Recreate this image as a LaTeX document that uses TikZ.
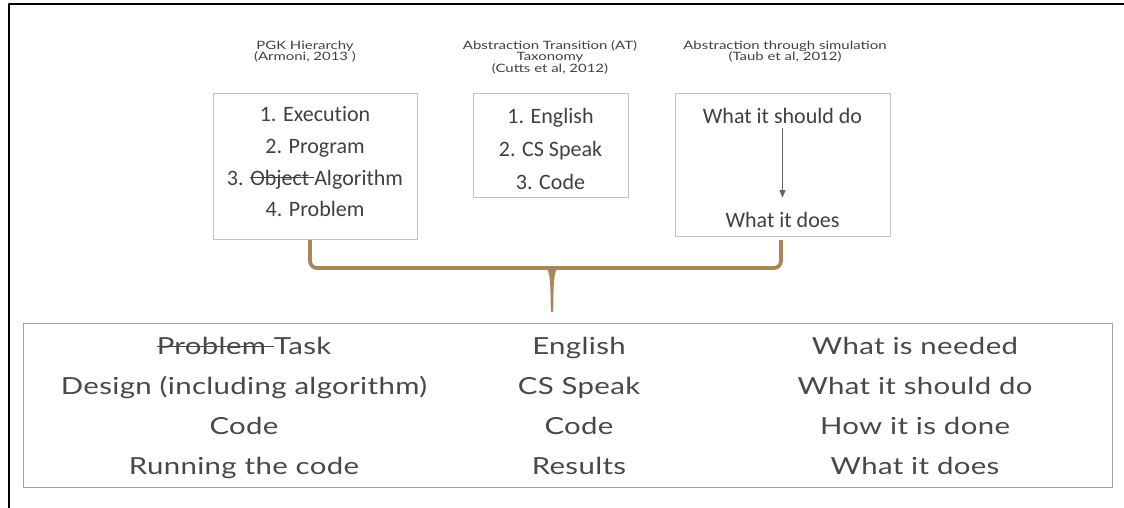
\documentclass[tikz,border=0pt]{standalone}
\usepackage{fontspec}
\usepackage{tikz}
\usetikzlibrary{arrows}
\newfontfamily\titlefont[FakeStretch=1.3]{Lato}
\newfontfamily\boxfont[Ligatures=NoCommon]{Carlito}
\newfontfamily\rowfont[FakeStretch=1.25,LetterSpace=1.5]{Lato}
\definecolor{txtgray}{rgb}{0.25,0.25,0.25}
\definecolor{rowgray}{rgb}{0.28,0.28,0.30}
\definecolor{boxgray}{rgb}{0.76,0.76,0.76}
\definecolor{tabgray}{rgb}{0.63,0.63,0.63}
\definecolor{bracetan}{rgb}{0.66,0.53,0.35}
\newcommand\strk[1]{\setbox0\hbox{#1}\rlap{\rule[0.3em]{\wd0}{0.055em}}\box0}

\begin{document}
\begin{tikzpicture}[x=1pt,y=-1pt,line cap=round,line join=round,>=triangle 45,
  hdr/.style={font=\titlefont\fontsize{11.5}{14}\selectfont,text=txtgray,anchor=base,inner sep=0pt},
  lst/.style={font=\boxfont\fontsize{22}{26}\selectfont,text=txtgray,anchor=base,inner sep=0pt},
  row/.style={font=\rowfont\fontsize{23.5}{26}\selectfont,text=rowgray,anchor=base,inner sep=0pt},
  srcbox/.style={draw=boxgray,line width=0.8pt,inner sep=0pt},
  brace/.style={draw=bracetan,line width=3.8pt,line cap=butt}]
\useasboundingbox (0,0) rectangle (1124,508);
\draw [line width=2.2pt,line cap=butt] (9.3,508) -- (9.3,4.2) -- (1124,4.2);
%% source boxes
\node[srcbox,minimum width=204pt,minimum height=146pt] (pgk) at (315,166) {};
\node[srcbox,minimum width=155pt,minimum height=104pt] (at) at (550.5,145) {};
\node[srcbox,minimum width=215pt,minimum height=143pt] (sim) at (782.5,164.5) {};
\node[hdr] (pgkhdr1) at (305,49.5) {PGK Hierarchy};
\node[hdr] (pgkhdr2) at (305,61) {(Armoni, 2013 )};
\node[hdr] (athdr1) at (550,49.5) {Abstraction Transition (AT)};
\node[hdr] (athdr2) at (550,61) {Taxonomy};
\node[hdr] (athdr3) at (550,72.5) {(Cutts et al, 2012)};
\node[hdr] (simhdr1) at (785,49.5) {Abstraction through simulation};
\node[hdr] (simhdr2) at (785,61) {(Taub et al, 2012)};
\node[lst] (pgk1) at (315,122) {1. Execution};
\node[lst] (pgk2) at (315,153.5) {2. Program};
\node[lst] (pgk3) at (315,185) {3. \strk{Object\ }Algorithm};
\node[lst] (pgk4) at (315,216) {4. Problem};
\node[lst] (at1) at (550.5,123.5) {1. English};
\node[lst] (at2) at (550.5,156.5) {2. CS Speak};
\node[lst] (at3) at (550.5,189.5) {3. Code};
\node[lst] (sim1) at (782.5,124) {What it should do};
\node[lst] (sim2) at (782.5,227) {What it does};
\draw [->,line width=0.7pt,draw=txtgray!80] ([yshift=-4pt]sim1.south) -- ([yshift=14pt]sim2.north);
%% brace
\coordinate (bl) at (310,240);
\coordinate (br) at (781,240);
\coordinate (bm) at (552,268);
\draw [brace,rounded corners=7pt] (bl) |- (bm) -| (br);
\fill [bracetan] (542,266.1) .. controls (550,267) and (550.5,276) .. (550.8,312) -- (553.2,312) .. controls (553.5,276) and (554,267) .. (562,266.1) -- cycle;
%% result table
\node[draw=tabgray,line width=0.9pt,minimum width=1089pt,minimum height=164pt,inner sep=0pt] (tab) at (567.5,405) {};
\node[row] (c11) at (244,354) {\strk{Problem\ }Task};
\node[row] (c12) at (244,394) {Design (including algorithm)};
\node[row] (c13) at (244,434) {Code};
\node[row] (c14) at (244,474) {Running the code};
\node[row] (c21) at (579,354) {English};
\node[row] (c22) at (579,394) {CS Speak};
\node[row] (c23) at (579,434) {Code};
\node[row] (c24) at (579,474) {Results};
\node[row] (c31) at (915,354) {What is needed};
\node[row] (c32) at (915,394) {What it should do};
\node[row] (c33) at (915,434) {How it is done};
\node[row] (c34) at (915,474) {What it does};
\end{tikzpicture}
\end{document}
